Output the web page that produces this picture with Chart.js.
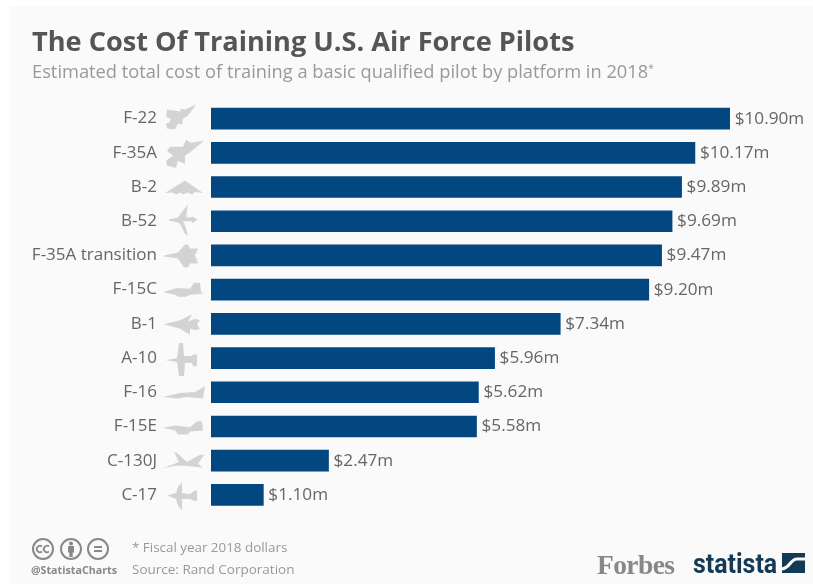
<!DOCTYPE html>
<html>
<head>
<meta charset="utf-8">
<script src="https://cdn.jsdelivr.net/npm/chart.js@4"></script>
<style>
html, body { margin: 0; padding: 0; background: #fff; }
body { width: 813px; height: 584px; overflow: hidden; position: relative; font-family: "Open Sans", sans-serif; }
#card { position: absolute; left: 10px; top: 6px; width: 803px; height: 578px; background: #fafafa; }
#chart-box { position: absolute; left: 0; top: 0; width: 813px; height: 584px; }
.txt { position: absolute; white-space: nowrap; }
#title { left: 32px; top: 22px; font-size: 27.15px; font-weight: 700; color: #555; line-height: 38px; }
#subtitle { left: 32px; top: 60px; font-size: 18.3px; color: #999; line-height: 22px; }
#subtitle sup { font-size: 10px; line-height: 0; vertical-align: 6px; }
#note { left: 132px; top: 538px; font-size: 13.4px; color: #999; line-height: 18px; }
#source { left: 132px; top: 560px; font-size: 13.5px; color: #999; line-height: 18px; }
#handle { left: 31px; top: 563px; font-size: 10.7px; font-weight: 700; color: #888; line-height: 14px; }
#forbes { left: 597px; top: 549px; font-family: "Liberation Serif", serif; font-size: 27.5px; font-weight: 700; color: #888; line-height: 32px; letter-spacing: -0.6px; }
#statista { left: 693px; top: 545px; font-family: "Roboto", sans-serif; font-size: 28px; font-weight: 700; color: #123a55; line-height: 38px; transform: scaleX(0.89); transform-origin: left center; }
#logos { position: absolute; left: 0; top: 0; }
</style>
</head>
<body>
<div id="card"></div>
<div id="chart-box"><canvas id="chart" width="813" height="584"></canvas></div>
<div class="txt" id="title">The Cost Of Training U.S. Air Force Pilots</div>
<div class="txt" id="subtitle">Estimated total cost of training a basic qualified pilot by platform in 2018<sup>*</sup></div>
<div class="txt" id="note">* Fiscal year 2018 dollars</div>
<div class="txt" id="source">Source: Rand Corporation</div>
<div class="txt" id="handle">@StatistaCharts</div>
<div class="txt" id="forbes">Forbes</div>
<div class="txt" id="statista">statista</div>
<svg id="logos" width="813" height="584">
  <g fill="none" stroke="#888" stroke-width="2">
    <circle cx="43" cy="549" r="10"/>
    <circle cx="71" cy="549" r="10"/>
    <circle cx="98" cy="549" r="10"/>
  </g>
  <g fill="none" stroke="#888" stroke-width="1.8">
    <path d="M42 546.5a3.2 3.2 0 1 0 0 5"/>
    <path d="M49 546.5a3.2 3.2 0 1 0 0 5"/>
    <path d="M94 547h8M94 551h8"/>
  </g>
  <g fill="#888">
    <circle cx="71" cy="543.5" r="2"/>
    <rect x="68" y="546" width="6" height="6.5"/>
    <rect x="69.3" y="552" width="3.4" height="5"/>
  </g>
  <rect x="782" y="553" width="23" height="20" fill="#123a55"/>
  <path fill="none" stroke="#fafafa" stroke-width="3.2" d="M781 569c9 0 9-10 16-10h9"/>
</svg>
<script>
var categories = ["F-22", "F-35A", "B-2", "B-52", "F-35A transition", "F-15C", "B-1", "A-10", "F-16", "F-15E", "C-130J", "C-17"];
var costs = [10.90, 10.17, 9.89, 9.69, 9.47, 9.20, 7.34, 5.96, 5.62, 5.58, 2.47, 1.10];
var costLabels = ["$10.90m", "$10.17m", "$9.89m", "$9.69m", "$9.47m", "$9.20m", "$7.34m", "$5.96m", "$5.62m", "$5.58m", "$2.47m", "$1.10m"];

// aircraft silhouettes traced by eye, px offsets around the icon centre
var icons = [
    "M13-14L2-9L-3-10L-2-7L-16-9L-17-2L-12 1L-14 4L-17 5L-16 10L-8 11L-5 5L-1 6L0 0L5-3Z",
    "M21-12L8-10L3-13L0-6L-13-6L-16-2L-10 3L-17 8L-16 13L-7 15L-5 8L2 11L2 3L9-2Z",
    "M-18 6L-6-1.5L2-6.5L9-1.5L20 6L12 5L9 7.5L4 5.5L0 7.5L-3 5.5L-7 7.5L-10 5.5Z",
    "M-14-1.8L-5-3.8L0-10.8L5-16.8L4-10.8L3-3.8L9-4L10-5L12-3L15-1.5L12 0L10 2L9 0L0 0L3 6.8L5 14.2L2 12.5L-3 2.5L-6 1L-14-.5Z",
    "M-19 0L-5-3L2-11L5-11L7-7L15-7L12 0L15 8L7 8L5 12L1 12L-5 3L-19 1Z",
    "M-20 2.3L-6-1.6L7-1L11-7L17-7L18 2L20 4L7 5L3 7L-5 7L-8 5Z",
    "M-19 .5L-3-3.5L9-9.5L5-2L12-5L17-3.5L14 .5L17 5L12 6.5L7 5L7 11L-3 5Z",
    "M-17 2.3L-6 0L-4-15L0-15L1-2L9-2L10-3.5L14-3.5L14 8.3L10 8.3L9 5L2 5L1 18L-4 18L-6 4Z",
    "M-20 4.7L-3 .7L12-.3L22-6L20 6.3L4 4.7L-6 6.3Z",
    "M-20 1.3L-8-1L7 .7L14-5.3L19-5.3L20 4L7 5L5 8L-5 8L-8 4Z",
    "M-21 8L-4 1.4L-9-8.6L-6-7.6L4 1.4L17-6L21-6L15 3L20 7L12 6L0 5L-8 5Z",
    "M-16 .5L-7-2L-5-8L-1-13L-1-2L7-1L12-4.5L14-4.5L14 6L12 6L7 4L-1 4L-1 15.5L-5 10.5L-7 4Z"
];

var barNavy = "#02477f";
var labelGrey = "#666666";

// fixes the bar area at the reference's left edge
function fixAxisWidth(scale) {
    scale.width = 211;
}

var iconPlugin = {
    id: "planeIcons",
    afterDatasetsDraw: function(chart) {
        var ctx = chart.ctx;
        var yScale = chart.scales.y;
        var xScale = chart.scales.x;
        ctx.save();
        ctx.fillStyle = "#d3d3d3";
        for (var i = 0; i < icons.length; i++) {
            ctx.save();
            ctx.translate(183, yScale.getPixelForValue(i));
            ctx.fill(new Path2D(icons[i]));
            ctx.restore();
        }
        // value labels at the end of each bar
        ctx.fillStyle = labelGrey;
        ctx.font = "17.2px 'Open Sans'";
        ctx.textBaseline = "middle";
        ctx.textAlign = "left";
        for (var j = 0; j < costs.length; j++) {
            ctx.fillText(costLabels[j], xScale.getPixelForValue(costs[j]) + 5, yScale.getPixelForValue(j));
        }
        ctx.restore();
    }
};

new Chart(document.getElementById("chart").getContext("2d"), {
    type: "bar",
    data: {
        labels: categories,
        datasets: [{
            data: costs,
            backgroundColor: barNavy,
            barThickness: 21
        }]
    },
    options: {
        indexAxis: "y",
        responsive: false,
        animation: false,
        layout: { padding: { left: 0, right: 31, top: 101.5, bottom: 72 } },
        plugins: { legend: { display: false }, tooltip: { enabled: false } },
        scales: {
            x: {
                min: 0,
                max: 12,
                display: false
            },
            y: {
                afterFit: fixAxisWidth,
                grid: { display: false },
                border: { display: false },
                ticks: {
                    color: labelGrey,
                    padding: 46,
                    autoSkip: false,
                    font: { family: "'Open Sans'", size: 17 }
                }
            }
        }
    },
    plugins: [iconPlugin]
});
</script>
</body>
</html>
